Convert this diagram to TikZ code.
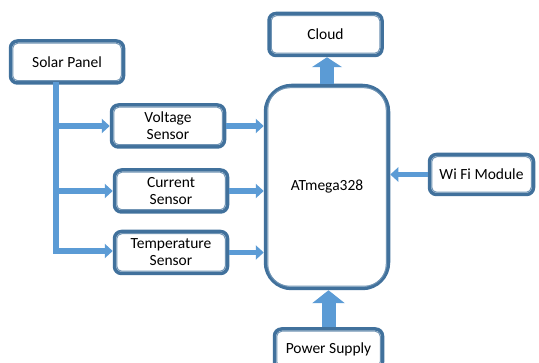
\documentclass[tikz,border=0pt]{standalone}
\usepackage{fontspec}
\setmainfont{Carlito}
\usepackage{tikz}
\usetikzlibrary{arrows.meta,calc}

\definecolor{boxblue}{HTML}{41719C}
\definecolor{linkblue}{HTML}{5B9BD5}

\begin{document}
\begin{tikzpicture}[x=1pt, y=-1pt,
  unit/.style={draw=boxblue, line width=3.5pt, rounded corners=7pt, fill=white,
               inner sep=0pt, minimum width=113pt, minimum height=42pt,
               align=center, font=\fontsize{15.5}{17}\selectfont},
  rim/.style={draw=boxblue!75, line width=1pt, rounded corners=5pt},
  link/.style={draw=linkblue, line width=5.5pt, -{Triangle[length=8pt, width=14pt]}},
  bus/.style={draw=linkblue, line width=5.5pt, line cap=rect},
  fat/.style={draw=linkblue, fill=linkblue, line width=14pt, -{Triangle[length=13pt, width=32pt]}}
]
\useasboundingbox (0,0) rectangle (539,363);

\node[unit] (solar) at (67,62) {Solar Panel};
\node[unit] (cloud) at (325.5,34.5) {Cloud};
\node[unit] (volt) at (168,126) {Voltage\\Sensor};
\node[unit] (curr) at (171,191) {Current\\Sensor};
\node[unit] (temp) at (171,252.5) {Temperature\\Sensor};
\node[unit, rounded corners=26pt, minimum width=123pt, minimum height=203pt] (mcu) at (327,187) {ATmega328};
\node[unit, minimum width=104pt, minimum height=40pt] (wifi) at (481.5,174.5) {Wi Fi Module};
\node[unit, minimum width=108pt, minimum height=40pt] (power) at (328.5,349) {Power Supply};

% inner outline of every box
\foreach \n in {solar,cloud,volt,curr,temp,wifi,power}
  \draw[rim] ($(\n.south west)+(4pt,4pt)$) rectangle ($(\n.north east)+(-4pt,-4pt)$);
\draw[rim, rounded corners=22pt] ($(mcu.south west)+(4pt,4pt)$) rectangle ($(mcu.north east)+(-4pt,-4pt)$);

% solar panel feed
\coordinate (trunk) at (56,251);
\draw[bus] (solar.south -| trunk) -- (trunk);
\draw[link] (trunk |- volt) -- (volt.west);
\draw[link] (trunk |- curr) -- (curr.west);
\draw[link] (trunk) -- (temp.west |- trunk);

% sensors into the controller
\draw[link] (volt.east) -- (volt.east -| mcu.west);
\draw[link] (curr.east) -- (curr.east -| mcu.west);
\draw[link] (temp.east) -- (temp.east -| mcu.west);
\draw[link] (wifi.west) -- (wifi.west -| mcu.east);

% block arrows
\draw[fat] (power.north) -- (power.north |- mcu.south);
\draw[fat, -{Triangle[length=10pt, width=30pt]}] (mcu.north) -- (mcu.north |- cloud.south);
\end{tikzpicture}
\end{document}
